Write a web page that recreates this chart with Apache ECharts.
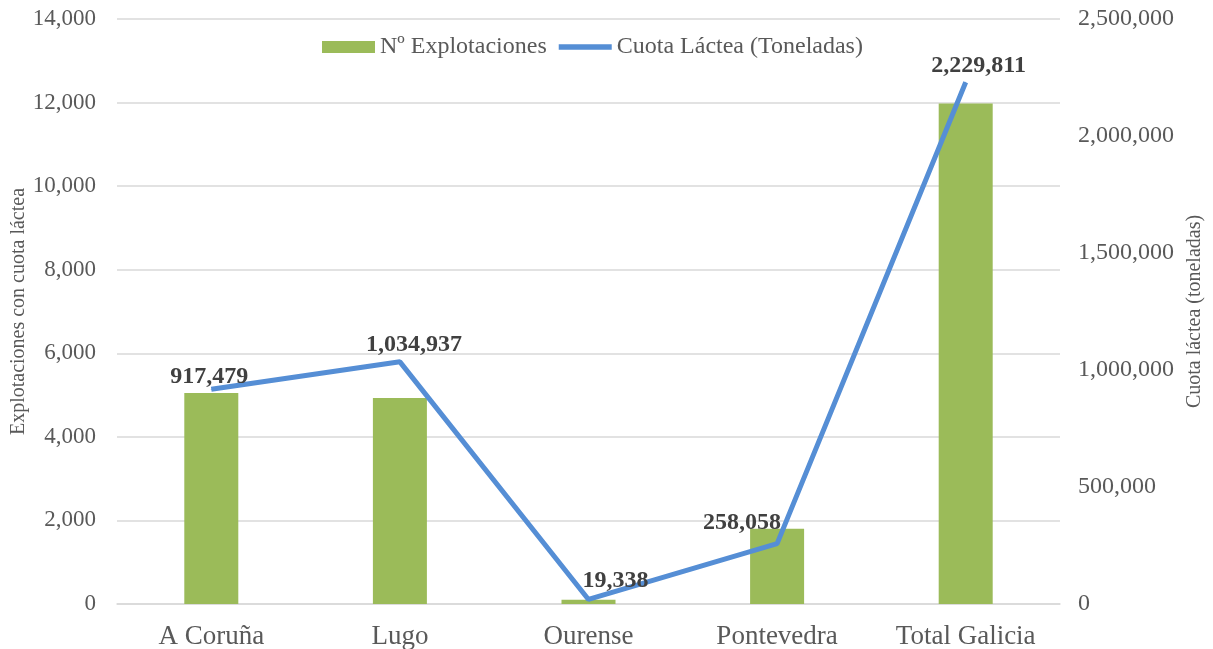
<!DOCTYPE html>
<html>
<head>
<meta charset="utf-8">
<script src="https://cdn.jsdelivr.net/npm/echarts@6/dist/echarts.min.js"></script>
<style>
  html, body { margin: 0; padding: 0; background: #fff; }
  #chart { width: 1213px; height: 649px; }
</style>
</head>
<body>
<div id="chart"></div>
<script>
// Provinces of Galicia and the regional total
const categories = ['A Coruña', 'Lugo', 'Ourense', 'Pontevedra', 'Total Galicia'];
// Number of farms holding a milk quota
const explotaciones = [5050, 4930, 100, 1800, 11980];
// Milk quota in tonnes
const cuotaLactea = [917479, 1034937, 19338, 258058, 2229811];
// Label offsets for the quota values [x, y]
const labelOffsets = [[-2, 0], [14, -5], [27, -6], [-35, -8], [13, -4]];

const FONT = '"Liberation Serif", "Times New Roman", serif';
const GREY = '#595959';

const chart = echarts.init(document.getElementById('chart'), null, { renderer: 'canvas' });

chart.setOption({
  animation: false,
  textStyle: { fontFamily: FONT },
  legend: {
    top: 30,
    left: 317,
    itemGap: 12,
    itemWidth: 53,
    itemHeight: 12,
    textStyle: { fontFamily: FONT, fontSize: 24, color: GREY },
    data: [
      { name: 'Nº Explotaciones', icon: 'rect' },
      { name: 'Cuota Láctea (Toneladas)', icon: 'path://M0,4 L40,4 L40,8 L0,8 Z' }
    ]
  },
  grid: {
    left: 117, right: 153, top: 19, bottom: 45,
    containLabel: false,
    outerBoundsMode: 'none'
  },
  xAxis: {
    type: 'category',
    data: categories,
    axisTick: { show: false },
    axisLine: { lineStyle: { color: '#d9d9d9', width: 1.5 } },
    axisLabel: { fontFamily: FONT, fontSize: 27, color: GREY, margin: 19 }
  },
  yAxis: [
    {
      type: 'value',
      min: 0, max: 14000, interval: 2000,
      name: 'Explotaciones con cuota láctea',
      nameLocation: 'middle',
      nameGap: 88,
      nameMoveOverlap: false,
      nameTextStyle: { fontFamily: FONT, fontSize: 20, color: GREY },
      axisLabel: {
        fontFamily: FONT, fontSize: 23, color: GREY, margin: 21,
        formatter: v => v.toLocaleString('en-US')
      },
      splitLine: { lineStyle: { color: '#d9d9d9', width: 1.5 } },
      axisLine: { show: false },
      axisTick: { show: false }
    },
    {
      type: 'value',
      min: 0, max: 2500000, interval: 500000,
      name: 'Cuota láctea (toneladas)',
      nameLocation: 'middle',
      nameGap: 124,
      nameRotate: 90,
      nameTextStyle: { fontFamily: FONT, fontSize: 20, color: GREY },
      axisLabel: {
        fontFamily: FONT, fontSize: 24, color: GREY, margin: 18,
        formatter: v => v.toLocaleString('en-US')
      },
      splitLine: { show: false },
      axisLine: { show: false },
      axisTick: { show: false }
    }
  ],
  series: [
    {
      name: 'Nº Explotaciones',
      type: 'bar',
      yAxisIndex: 0,
      barWidth: 54,
      itemStyle: { color: '#9BBB59' },
      data: explotaciones
    },
    {
      name: 'Cuota Láctea (Toneladas)',
      type: 'line',
      yAxisIndex: 1,
      symbol: 'circle',
      symbolSize: 1,
      showSymbol: true,
      lineStyle: { color: '#558ED5', width: 5 },
      itemStyle: { color: '#558ED5' },
      z: 5,
      label: {
        show: true,
        position: 'top',
        distance: 0,
        fontFamily: FONT,
        fontSize: 24,
        fontWeight: 'bold',
        color: '#404040',
        formatter: p => p.value.toLocaleString('en-US')
      },
      data: cuotaLactea.map((v, i) => ({ value: v, label: { offset: labelOffsets[i] } }))
    }
  ]
});
</script>
</body>
</html>
